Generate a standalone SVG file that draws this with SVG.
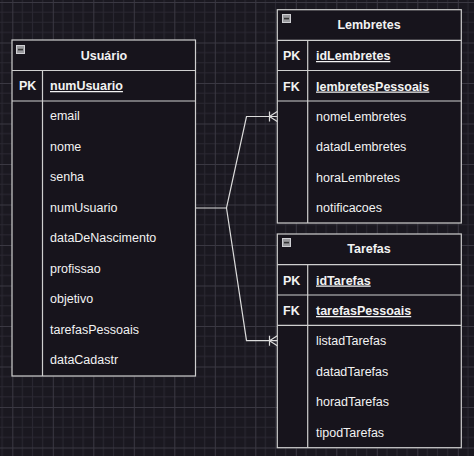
<svg xmlns="http://www.w3.org/2000/svg" width="474" height="456" viewBox="0 0 474 456">
<defs>
<pattern id="grid" x="12.3" y="2" width="40.5" height="40.5" patternUnits="userSpaceOnUse">
<path d="M10.125 0V40.5M20.25 0V40.5M30.375 0V40.5M0 10.125H40.5M0 20.25H40.5M0 30.375H40.5" stroke="#2a2832" stroke-width="1" fill="none"/>
<path d="M0.5 0V40.5M0 0.5H40.5" stroke="#3a3842" stroke-width="1" fill="none"/>
</pattern>
<g id="minus">
<rect x="0.5" y="0.5" width="8" height="8" fill="#9a9a9e" stroke="#d0d0d4" stroke-width="1"/>
<rect x="2" y="3.8" width="5" height="1.6" fill="#333"/>
</g>
</defs>
<style>
.tbl{fill:#17141c;stroke:#cfcfcf;stroke-width:1.2}
.ln{stroke:#cfcfcf;stroke-width:1.2;fill:none}
.t{font-family:"Liberation Sans",Arial,sans-serif;font-size:12.5px;fill:#f2f2f2}
.h{font-family:"Liberation Sans",Arial,sans-serif;font-size:12.5px;font-weight:bold;fill:#f2f2f2}
.k{font-family:"Liberation Sans",Arial,sans-serif;font-size:12.5px;font-weight:bold;fill:#f2f2f2}
.u{text-decoration:underline}
.c{stroke:#dcdcdc;stroke-width:1.2;fill:none}
</style>
<rect width="474" height="456" fill="#1a1820"/>
<rect width="474" height="456" fill="url(#grid)"/>

<g id="usuario">
<rect class="tbl" x="12" y="40" width="183.5" height="336"/>
<use href="#minus" x="16" y="45"/>
<text class="h" x="104" y="59.5" text-anchor="middle">Usuário</text>
<line class="ln" x1="12" y1="70.5" x2="195.5" y2="70.5"/>
<line class="ln" x1="42.5" y1="70.5" x2="42.5" y2="376"/>
<line class="ln" x1="12" y1="101" x2="195.5" y2="101" stroke-width="1.6"/>
<text class="k" x="19" y="90">PK</text>
<text class="k u" x="50" y="90">numUsuario</text>
<text class="t" x="50" y="120">email</text>
<text class="t" x="50" y="150.5">nome</text>
<text class="t" x="50" y="181">senha</text>
<text class="t" x="50" y="211.5">numUsuario</text>
<text class="t" x="50" y="242">dataDeNascimento</text>
<text class="t" x="50" y="272.5">profissao</text>
<text class="t" x="50" y="303">objetivo</text>
<text class="t" x="50" y="333.5">tarefasPessoais</text>
<text class="t" x="50" y="364">dataCadastr</text>
</g>

<g id="lembretes">
<rect class="tbl" x="277.3" y="9.7" width="184" height="213.3"/>
<use href="#minus" x="282" y="14"/>
<text class="h" x="369" y="28.5" text-anchor="middle">Lembretes</text>
<line class="ln" x1="277.3" y1="40.3" x2="461.3" y2="40.3"/>
<line class="ln" x1="307.7" y1="40.3" x2="307.7" y2="223"/>
<line class="ln" x1="277.3" y1="70.5" x2="461.3" y2="70.5"/>
<line class="ln" x1="277.3" y1="101" x2="461.3" y2="101" stroke-width="1.6"/>
<text class="k" x="283" y="60">PK</text>
<text class="k u" x="316" y="60">idLembretes</text>
<text class="k" x="283" y="90.5">FK</text>
<text class="k u" x="316" y="90.5">lembretesPessoais</text>
<text class="t" x="316" y="120.5">nomeLembretes</text>
<text class="t" x="316" y="151">datadLembretes</text>
<text class="t" x="316" y="181.5">horaLembretes</text>
<text class="t" x="316" y="212">notificacoes</text>
</g>

<g id="tarefas">
<rect class="tbl" x="277.3" y="234" width="184" height="213.7"/>
<use href="#minus" x="282" y="238"/>
<text class="h" x="369" y="253" text-anchor="middle">Tarefas</text>
<line class="ln" x1="277.3" y1="264.7" x2="461.3" y2="264.7"/>
<line class="ln" x1="307.7" y1="264.7" x2="307.7" y2="447.7"/>
<line class="ln" x1="277.3" y1="295" x2="461.3" y2="295"/>
<line class="ln" x1="277.3" y1="325.3" x2="461.3" y2="325.3" stroke-width="1.6"/>
<text class="k" x="283" y="284.5">PK</text>
<text class="k u" x="316" y="284.5">idTarefas</text>
<text class="k" x="283" y="315">FK</text>
<text class="k u" x="316" y="315">tarefasPessoais</text>
<text class="t" x="316" y="345">listadTarefas</text>
<text class="t" x="316" y="375.5">datadTarefas</text>
<text class="t" x="316" y="406">horadTarefas</text>
<text class="t" x="316" y="436.5">tipodTarefas</text>
</g>

<g id="connectors">
<path class="c" d="M195.5 208H226.5L246.5 116.5H277.3"/>
<path class="c" d="M269.5 111.5V121.5M277.3 111.5L269.5 116.5L277.3 121.5"/>
<path class="c" d="M226.5 208L246.5 340.7H277.3"/>
<path class="c" d="M269.5 335.7V345.7M277.3 335.7L269.5 340.7L277.3 345.7"/>
</g>
</svg>
